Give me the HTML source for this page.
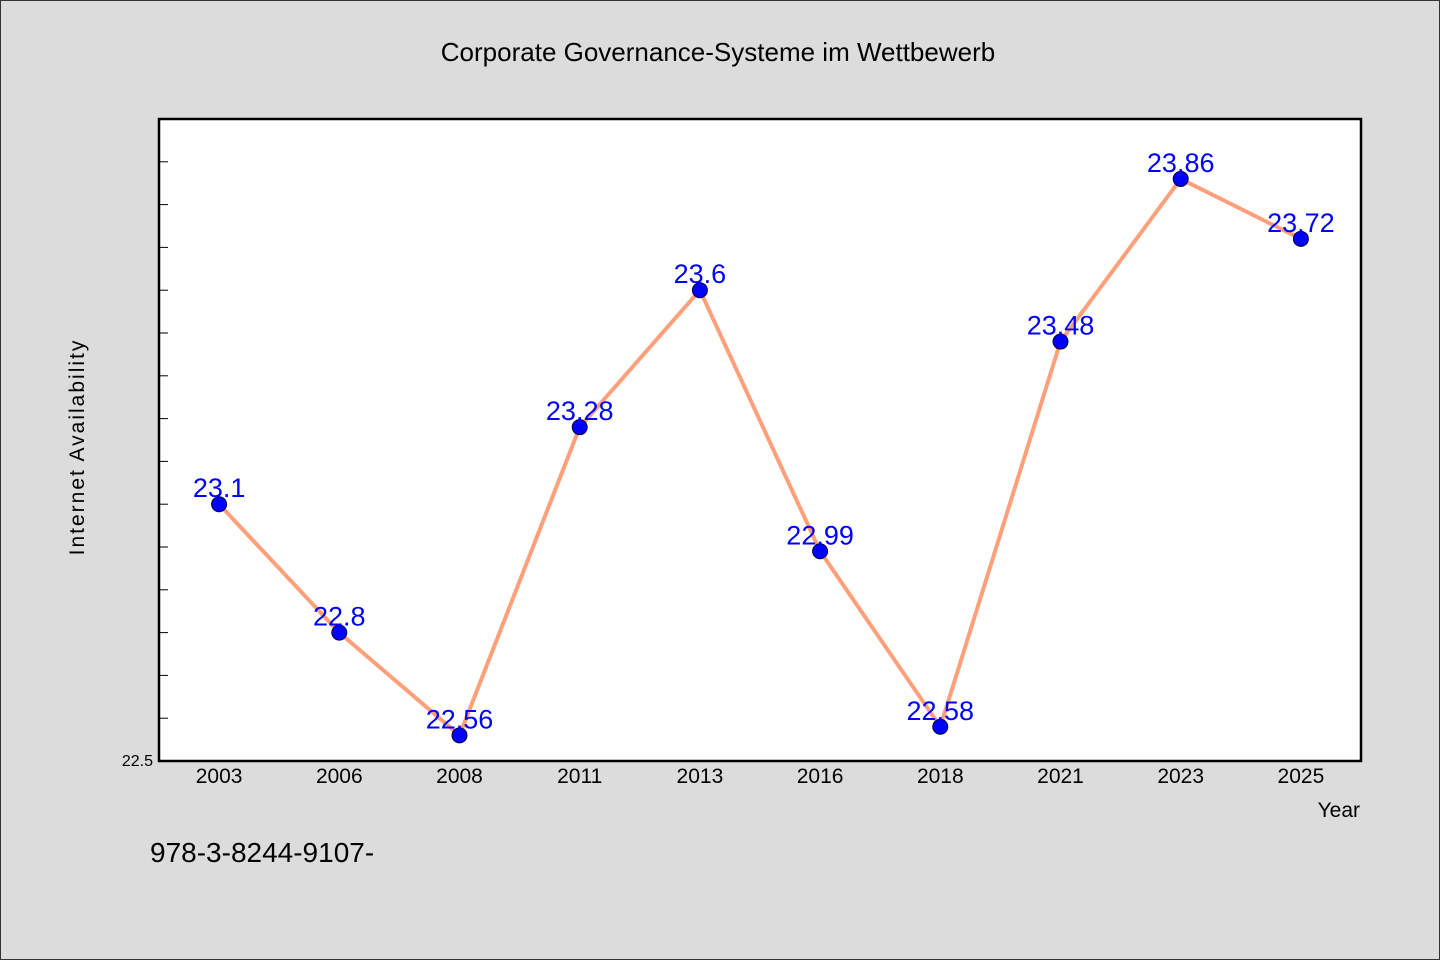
<!DOCTYPE html>
<html><head><meta charset="utf-8"><style>
body{margin:0;background:#dcdcdc;}
svg{display:block;font-family:"WenQuanYi Zen Hei","Liberation Sans",sans-serif;}
</style></head><body>
<svg id="chart" width="1440" height="960">
<rect x="0.5" y="0.5" width="1439" height="959" fill="#dcdcdc" stroke="#333"/>
<text x="718" y="61" font-size="26" text-anchor="middle" fill="#000">Corporate Governance-Systeme im Wettbewerb</text>
<rect x="159" y="119" width="1202" height="642" fill="#fff" stroke="#000" stroke-width="2.5"/>
<g id="yticks"></g>
<g id="xticks"></g>
<g id="series"></g>
<text transform="translate(84,447) rotate(-90)" font-size="21" letter-spacing="2" text-anchor="middle" fill="#000">Internet Availability</text>
<text x="1360" y="817" font-size="21" text-anchor="end" fill="#000">Year</text>
<text x="150" y="862" font-size="28" fill="#000">978-3-8244-9107-</text>
</svg>
<script>
const categories=["2003","2006","2008","2011","2013","2016","2018","2021","2023","2025"];
const values=[23.1,22.8,22.56,23.28,23.6,22.99,22.58,23.48,23.86,23.72];
const yMin=22.5,yMax=24.0;
const yTickLabels=["22.5"];
const L=159,R=1361,T=119,B=761;
const NS="http://www.w3.org/2000/svg";
const band=(R-L)/categories.length;
const xs=i=>L+(i+0.5)*band;
const ys=v=>B-(v-yMin)/(yMax-yMin)*(B-T);
function mk(t,a,p){const e=document.createElementNS(NS,t);for(const k in a)e.setAttribute(k,a[k]);p.appendChild(e);return e;}
const yt=document.getElementById('yticks');
for(let v=yMin+0.1;v<yMax-0.01;v+=0.1){
 const l=mk('line',{x1:L,x2:L+9,y1:ys(v),y2:ys(v),stroke:'#000','stroke-width':1},yt);
 
 
}
yTickLabels.forEach(s=>{
 const t=mk('text',{x:L-6,y:ys(parseFloat(s))+5,'font-size':16,'text-anchor':'end',fill:'#000'},yt);
 t.textContent=s;
 
 
});
const xt=document.getElementById('xticks');
categories.forEach((c,i)=>{
 const t=mk('text',{x:xs(i),y:783,'font-size':21,'text-anchor':'middle',fill:'#000'},xt);
 t.textContent=c;
 
 
});
const sg=document.getElementById('series');
const line=mk('polyline',{points:values.map((v,i)=>xs(i)+','+ys(v)).join(' '),fill:'none',stroke:'#FFA07A','stroke-width':4,'stroke-linejoin':'round'},sg);


values.forEach((v,i)=>{
 const c=mk('circle',{cx:xs(i),cy:ys(v),r:7.5,fill:'#0000ff',stroke:'#000033','stroke-width':1},sg);
 
 
 const t=mk('text',{x:xs(i),y:ys(v)-7,'font-size':27,'text-anchor':'middle',fill:'#0000ff'},sg);
 t.textContent=String(v);
 
 
});
</script>
</body></html>
